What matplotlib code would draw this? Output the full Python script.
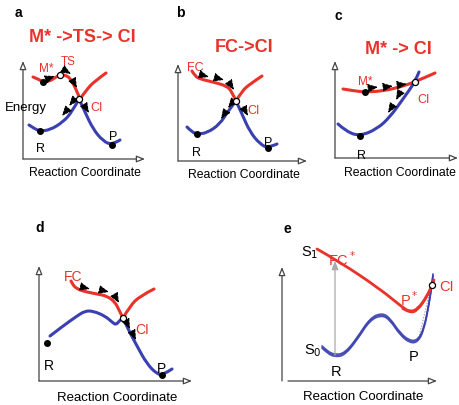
import matplotlib
matplotlib.use("Agg")
import matplotlib.pyplot as plt
from matplotlib.path import Path
from matplotlib.patches import PathPatch

plt.rcParams['font.family'] = ['Liberation Sans', 'DejaVu Sans']

RED = '#e8322a'
BLUE = '#3a40b0'

# ---------------- data (schematic curve control points, pixel space) ----------------
# panel a
a_red_x = [33, 38, 43, 50, 56, 60, 65, 70, 74, 78, 80, 87, 95, 106]
a_red_y = [78, 80, 83, 82, 78, 76, 76, 79, 86, 95, 100, 90, 82, 74]
a_blue_x = [29, 35, 40, 50, 63, 72, 79, 85, 93, 103, 112, 120]
a_blue_y = [126, 130, 132, 131, 123, 113, 100, 113, 130, 142, 146, 141]
# panel b
b_red_x = [192, 195, 200, 213, 227, 232, 236, 242, 250, 262]
b_red_y = [72, 77, 80, 83, 87, 93, 102, 92, 85, 77]
b_blue_x = [187, 192, 197, 207, 220, 228, 236, 242, 250, 260, 268, 277]
b_blue_y = [128, 133, 135, 134, 125, 112, 102, 115, 133, 145, 149, 145]
# panel c
c_red_x = [343, 355, 365, 383, 400, 415, 435]
c_red_y = [90, 92, 93, 92, 88, 83, 74]
c_blue_x = [338, 347, 360, 377, 390, 403, 415, 419]
c_blue_y = [125, 133, 137, 130, 118, 100, 83, 73]
# panel d
d_red_x = [71, 73, 76, 82, 97, 107, 115, 119, 123, 130, 140, 154]
d_red_y = [282, 286, 289, 292, 295, 297, 303, 311, 319, 307, 297, 290]
d_blue_x = [50, 63, 77, 85, 93, 105, 112, 116, 119, 123, 128, 137, 147, 157, 163, 172]
d_blue_y = [337, 327, 317, 312, 312, 317, 323, 326, 322, 319, 330, 347, 365, 375, 376, 370]
# panel e
e_red_x = [317, 340, 380, 402, 410, 418, 427, 432, 434]
e_red_y = [250, 263, 290, 308, 313, 310, 297, 286, 281]
e_blue_x = [322, 327, 335, 345, 357, 370, 382, 390, 400, 410, 418, 424, 429, 432, 433]
e_blue_y = [348, 353, 357, 355, 340, 320, 315, 320, 335, 343, 342, 330, 305, 285, 276]

# panel frames: (y-axis x, y top, y bottom, x-axis start, x-axis end)
frames = {
    'a': (23, 62, 160, 23, 145),
    'b': (178, 65, 162, 178, 307),
    'c': (335, 62, 159, 335, 458),
    'd': (39, 267, 382, 39, 192),
    'e': (282, 268, 382, 288, 437),
}

fig = plt.figure(figsize=(4.6, 4.06), dpi=100)
ax = fig.add_axes([0, 0, 1, 1])
ax.set_xlim(0, 460)
ax.set_ylim(406, 0)
ax.axis('off')


def smooth(xs, ys, color, lw=2.2, split=None, dy=0.0, alpha=1.0, z=3):
    """Draw a quadratic B-spline through the control points (split = cusp index)."""
    pts = list(zip(xs, [y + dy for y in ys]))
    pieces = [pts] if split is None else [pts[:split + 1], pts[split:]]
    for p in pieces:
        verts = [p[0]]
        codes = [Path.MOVETO]
        n = len(p)
        if n == 2:
            verts.append(p[1]); codes.append(Path.LINETO)
        else:
            for i in range(1, n - 2):
                mid = ((p[i][0] + p[i + 1][0]) / 2, (p[i][1] + p[i + 1][1]) / 2)
                verts += [p[i], mid]
                codes += [Path.CURVE3, Path.CURVE3]
            verts += [p[n - 2], p[n - 1]]
            codes += [Path.CURVE3, Path.CURVE3]
        ax.add_patch(PathPatch(Path(verts, codes), fc='none', ec=color, lw=lw,
                               capstyle='round', joinstyle='round', alpha=alpha, zorder=z))


def axes_frame(key):
    yx, yt, yb, xs, xe = frames[key]
    ap = dict(arrowstyle='-|>,head_length=0.5,head_width=0.2', fc='white',
              ec='#444444', lw=0.9, shrinkA=0, shrinkB=0)
    ax.annotate('', xy=(yx, yt), xytext=(yx, yb), arrowprops=ap)
    ax.annotate('', xy=(xe, yb), xytext=(xs, yb), arrowprops=ap)


def arrow(p0, p1):
    ax.annotate('', xy=p1, xytext=p0,
                arrowprops=dict(arrowstyle='-|>,head_length=0.6,head_width=0.25',
                                color='black', lw=0.8, ls=(0, (2, 1.2)),
                                shrinkA=0, shrinkB=0), zorder=6)


def dot(x, y, filled=True):
    if filled:
        ax.plot(x, y, 'o', ms=4, color='black', zorder=7)
    else:
        ax.plot(x, y, 'o', ms=4.4, mfc='white', mec='black', mew=0.9, zorder=7)


for k in frames:
    axes_frame(k)

# ---------- panel a ----------
ax.text(18, 13, 'a', fontsize=10, fontweight='bold', ha='center', va='center')
ax.text(82, 38, 'M* ->TS-> CI', fontsize=13, fontweight='bold', color=RED, ha='center', va='center')
smooth(a_red_x, a_red_y, RED, split=10)
smooth(a_blue_x, a_blue_y, BLUE, split=6)
ax.text(26, 108, 'Energy', fontsize=9.5, ha='center', va='center')
ax.text(85, 173, 'Reaction Coordinate', fontsize=8.8, ha='center', va='center')
ax.text(46, 69, 'M*', fontsize=8.5, color=RED, ha='center', va='center')
ax.text(68, 62, 'TS', fontsize=8.5, color=RED, ha='center', va='center')
ax.text(97, 108, 'CI', fontsize=9, color=RED, ha='center', va='center')
ax.text(41, 149, 'R', fontsize=9, ha='center', va='center')
ax.text(113, 137, 'P', fontsize=9, ha='center', va='center')
dot(43, 83); dot(40, 132); dot(112, 146)
dot(60, 76, False); dot(79, 100, False)
arrow((47, 80), (55, 77))
arrow((66, 72), (71, 75))
arrow((73, 82), (77, 89))
arrow((74, 101), (69, 107))
arrow((67, 111), (62, 117))
arrow((84, 106), (89, 114))

# ---------- panel b ----------
ax.text(180, 13, 'b', fontsize=10, fontweight='bold', ha='center', va='center')
ax.text(244, 47, 'FC->CI', fontsize=13, fontweight='bold', color=RED, ha='center', va='center')
smooth(b_red_x, b_red_y, RED, split=6)
smooth(b_blue_x, b_blue_y, BLUE, split=6)
ax.text(244, 175, 'Reaction Coordinate', fontsize=8.8, ha='center', va='center')
ax.text(195, 68, 'FC', fontsize=9, color=RED, ha='center', va='center')
ax.text(254, 111, 'CI', fontsize=9, color=RED, ha='center', va='center')
ax.text(197, 153, 'R', fontsize=9, ha='center', va='center')
ax.text(268, 143, 'P', fontsize=9, ha='center', va='center')
dot(197, 135); dot(268, 149); dot(236, 102, False)
arrow((202, 76), (209, 78))
arrow((217, 79), (224, 81))
arrow((230, 85), (234, 91))
arrow((232, 104), (228, 109))
arrow((225, 114), (221, 120))
arrow((243, 108), (248, 117))

# ---------- panel c ----------
ax.text(338, 16, 'c', fontsize=10, fontweight='bold', ha='center', va='center')
ax.text(398, 49, 'M* -> CI', fontsize=13, fontweight='bold', color=RED, ha='center', va='center')
smooth(c_red_x, c_red_y, RED)
smooth(c_blue_x, c_blue_y, BLUE)
ax.text(400, 173, 'Reaction Coordinate', fontsize=8.8, ha='center', va='center')
ax.text(365, 82, 'M*', fontsize=8.5, color=RED, ha='center', va='center')
ax.text(424, 100, 'CI', fontsize=9, color=RED, ha='center', va='center')
ax.text(362, 156, 'R', fontsize=9, ha='center', va='center')
dot(365, 93); dot(360, 137); dot(415, 83, False)
arrow((370, 89), (378, 88))
arrow((385, 88), (393, 87))
arrow((399, 86), (407, 85))
arrow((401, 92), (396, 101))
arrow((393, 106), (388, 114))

# ---------- panel d ----------
ax.text(40, 228, 'd', fontsize=10, fontweight='bold', ha='center', va='center')
smooth(d_red_x, d_red_y, RED, split=8)
smooth(d_blue_x, d_blue_y, BLUE, split=9)
ax.text(117, 398, 'Reaction Coordinate', fontsize=9.5, ha='center', va='center')
ax.text(73, 277, 'FC', fontsize=10, color=RED, ha='center', va='center')
ax.text(142, 330, 'CI', fontsize=10, color=RED, ha='center', va='center')
ax.text(49, 366, 'R', fontsize=10, ha='center', va='center')
ax.text(162, 369, 'P', fontsize=10, ha='center', va='center')
dot(47, 344); dot(162, 376); dot(123, 319, False)
arrow((82, 288), (90, 290))
arrow((101, 291), (109, 293))
arrow((115, 297), (119, 304))
arrow((126, 322), (130, 330))
arrow((132, 333), (136, 341))

# ---------- panel e ----------
ax.text(287, 229, 'e', fontsize=10, fontweight='bold', ha='center', va='center')
for off in (-1.2, 0, 1.2):
    smooth(e_blue_x, e_blue_y, BLUE, lw=1.1, dy=off, alpha=0.9)
smooth(e_red_x, e_red_y, RED, lw=2.0)
smooth(e_red_x[3:], e_red_y[3:], RED, lw=1.0, dy=1.8)
ax.plot([418, 431], [342, 288], color='#999999', lw=0.7, ls=(0, (1.5, 1.5)))
ax.annotate('', xy=(335, 262), xytext=(335, 356),
            arrowprops=dict(arrowstyle='-|>,head_length=0.5,head_width=0.2',
                            color='#aaaaaa', lw=0.9, shrinkA=0, shrinkB=0))
ax.text(363, 397, 'Reaction Coordinate', fontsize=9.5, ha='center', va='center')
ax.text(310, 253, r'S$_1$', fontsize=10.5, ha='center', va='center')
ax.text(313, 351, r'S$_0$', fontsize=10.5, ha='center', va='center')
ax.text(342, 260, r'FC$^*$', fontsize=10.5, color=RED, ha='center', va='center')
ax.text(409, 300, r'P$^*$', fontsize=10.5, color=RED, ha='center', va='center')
ax.text(447, 287, 'CI', fontsize=10.5, color=RED, ha='center', va='center')
ax.text(336, 372, 'R', fontsize=10.5, ha='center', va='center')
ax.text(414, 357, 'P', fontsize=10.5, ha='center', va='center')
dot(432, 286, False)

fig.savefig('out.png', dpi=100)
